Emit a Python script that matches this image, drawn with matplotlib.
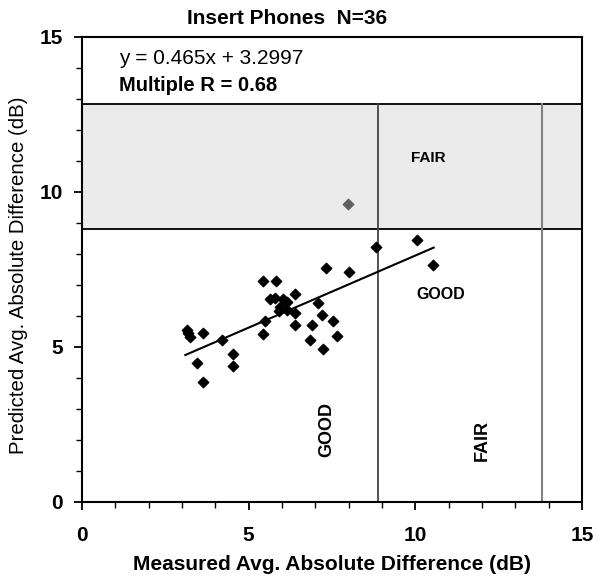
import matplotlib.pyplot as plt
from matplotlib.ticker import MultipleLocator
import numpy as np

# measured vs predicted avg. absolute difference (dB), insert phones
measured = [3.14, 3.24, 3.18, 3.64, 4.19, 3.44, 3.62, 4.54, 4.54, 5.42,
            5.82, 5.49, 5.44, 5.64, 6.04, 5.94, 6.14, 6.39, 6.39, 6.39,
            6.89, 6.84, 7.19, 7.09, 7.22, 7.32, 7.54, 7.66, 8.02, 8.81,
            10.04, 10.52, 5.79, 6.15, 5.91]
predicted = [5.55, 5.31, 5.45, 5.46, 5.23, 4.49, 3.88, 4.76, 4.39, 7.13,
             7.13, 5.84, 5.41, 6.54, 6.54, 6.30, 6.19, 6.70, 6.09, 5.71,
             5.71, 5.23, 6.03, 6.41, 4.93, 7.54, 5.85, 5.35, 7.43, 8.22,
             8.45, 7.65, 6.58, 6.45, 6.16]
outlier_x = [7.98]
outlier_y = [9.61]

slope = 0.465
intercept = 3.2997
fit_range = [3.1, 10.55]

good_x = 8.87
fair_x = 13.8
good_y = 8.8
fair_y = 12.84

plt.rcParams['font.family'] = ['Liberation Sans', 'DejaVu Sans']

fig = plt.figure(figsize=(5.93, 5.76), dpi=100)
ax = fig.add_axes([0.1383, 0.1285, 0.8432, 0.8073])

ax.axhspan(good_y, fair_y, color='#ebebeb', zorder=0)
ax.axhline(good_y, color='black', lw=1.3, zorder=1)
ax.axhline(fair_y, color='black', lw=1.3, zorder=1)
ax.plot([good_x, good_x], [0, fair_y], color='#444444', lw=1.3, zorder=1)
ax.plot([fair_x, fair_x], [0, fair_y], color='#808080', lw=1.5, zorder=1)

ax.scatter(measured, predicted, marker='D', s=28, color='black', zorder=3)
ax.scatter(outlier_x, outlier_y, marker='D', s=28, color='#606060', zorder=3)

xf = np.array(fit_range)
ax.plot(xf, slope * xf + intercept, color='black', lw=1.5, zorder=2)

ax.text(1.1, 14.3, 'y = 0.465x + 3.2997', fontsize=15, va='center')
ax.text(1.1, 13.45, 'Multiple R = 0.68', fontsize=14.5, fontweight='bold', va='center')

ax.text(10.4, 11.1, 'FAIR', fontsize=11, fontweight='bold', ha='center', va='center')
ax.text(10.75, 6.7, 'GOOD', fontsize=11.5, fontweight='bold', ha='center', va='center')
ax.text(7.35, 2.35, 'GOOD', fontsize=13, fontweight='bold', rotation=90, ha='center', va='center')
ax.text(12.0, 2.0, 'FAIR', fontsize=13, fontweight='bold', rotation=90, ha='center', va='center')

ax.set_xlim(0, 15)
ax.set_ylim(0, 15)
ax.xaxis.set_major_locator(MultipleLocator(5))
ax.xaxis.set_minor_locator(MultipleLocator(1))
ax.yaxis.set_major_locator(MultipleLocator(5))
ax.yaxis.set_minor_locator(MultipleLocator(1))
ax.tick_params(which='major', length=6, width=1.3, labelsize=15)
ax.tick_params(which='minor', length=4, width=1.0)
ax.tick_params(axis='x', which='major', pad=11)
ax.tick_params(axis='y', which='major', pad=8)
for lbl in ax.get_xticklabels() + ax.get_yticklabels():
    lbl.set_fontweight('bold')
for s in ax.spines.values():
    s.set_linewidth(1.5)

fig.text(287 / 593, 1 - 18 / 576, 'Insert Phones  N=36', fontsize=15,
         fontweight='bold', ha='center', va='center')
ax.set_xlabel('Measured Avg. Absolute Difference (dB)', fontsize=15, fontweight='bold')
ax.set_ylabel('Predicted Avg. Absolute Difference (dB)', fontsize=14.7)
ax.xaxis.set_label_coords(0.5, -0.114)
ax.yaxis.set_label_coords(-0.108, 0.488)

fig.savefig('out.png', dpi=100)
